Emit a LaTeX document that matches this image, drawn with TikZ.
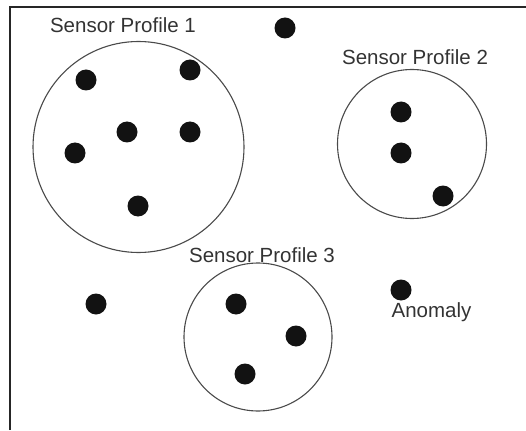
\documentclass[tikz,border=0pt]{standalone}
\usepackage{fontspec}
\setmainfont{Liberation Sans}
\usepackage{tikz}

\definecolor{inkgray}{HTML}{333333}
\definecolor{linegray}{HTML}{4A4A4A}

\tikzset{
  sensor/.style={circle,inner sep=0,minimum size=21pt,fill=black!93},
  profile/.style={circle,inner sep=0,draw=linegray,line width=1.1pt},
  tag/.style={anchor=base,text=inkgray,font=\fontsize{20.5}{24}\selectfont}
}

\begin{document}
\begin{tikzpicture}[x=1pt,y=-1pt]
  \useasboundingbox (0,0) rectangle (526,430);

  % frame
  \draw[line width=1.6pt,black!85] (10,430) -- (10,7) -- (526,7);

  % profiles
  \node[profile,minimum size=211pt] (prof1) at (138.5,147) {};
  \node[profile,minimum size=149pt] (prof2) at (412,144) {};
  \node[profile,minimum size=148pt] (prof3) at (258,337) {};

  \node[tag] (lab1) at (123,33) {Sensor Profile 1};
  \node[tag] (lab2) at (415,65) {Sensor Profile 2};
  \node[tag] (lab3) at (262,262) {Sensor Profile 3};
  \node[tag] (lab4) at (431.5,317) {Anomaly};

  % sensors
  \foreach \x/\y [count=\i] in {86/80,190/70,127/132,190/132,75/153,138/206,
                                285/28,401/112,401/153,443/196,
                                96/304,236/304,296/336,245/374,401/290}
  {
    \node[sensor] (s\i) at (\x,\y) {};
  }
\end{tikzpicture}
\end{document}
